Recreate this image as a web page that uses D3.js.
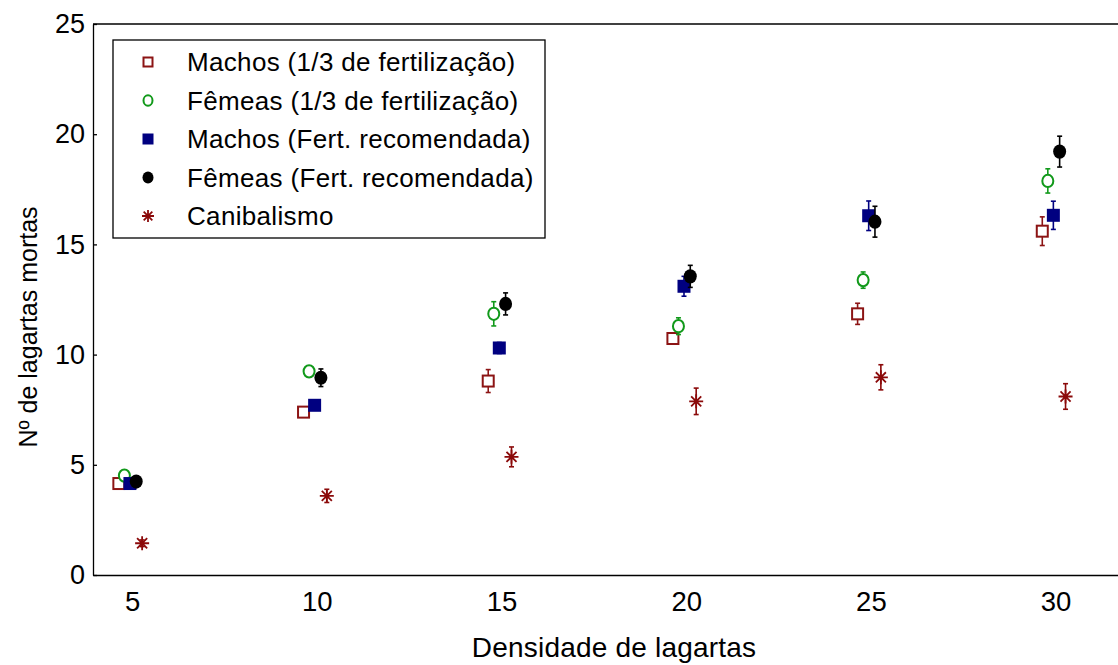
<!DOCTYPE html>
<html><head><meta charset="utf-8">
<script src="https://cdn.jsdelivr.net/npm/d3@7"></script>
<style>
body{margin:0;background:#fff}
svg{display:block}
text{font-family:"Liberation Sans",Arial,Helvetica,sans-serif;fill:#000}
</style>
</head><body>
<svg id="chart" width="1118" height="665"></svg>
<script>
// ---- data ----
const densities = [5, 10, 15, 20, 25, 30];
const xTicks = [5, 10, 15, 20, 25, 30];
const yTicks = [0, 5, 10, 15, 20, 25];

const machos13      = [4.15, 7.39, 8.8, 10.73, 11.85, 15.6];
const machos13Err   = [0.15, 0.2, 0.52, 0.2, 0.48, 0.65];
const femeas13      = [4.51, 9.24, 11.85, 11.29, 13.38, 17.88];
const femeas13Err   = [0.15, 0.2, 0.55, 0.38, 0.37, 0.55];
const machosRec     = [4.15, 7.7, 10.3, 13.1, 16.3, 16.32];
const machosRecErr  = [0.15, 0.2, 0.25, 0.45, 0.67, 0.64];
const femeasRec     = [4.24, 8.95, 12.3, 13.55, 16.03, 19.21];
const femeasRecErr  = [0.15, 0.4, 0.5, 0.5, 0.7, 0.7];
const canibalismo   = [1.44, 3.59, 5.36, 7.88, 8.97, 8.1];
const canibalismoErr= [0.15, 0.3, 0.45, 0.6, 0.57, 0.58];

const seriesNames = [
  "Machos (1/3 de fertilização)",
  "Fêmeas (1/3 de fertilização)",
  "Machos (Fert. recomendada)",
  "Fêmeas (Fert. recomendada)",
  "Canibalismo"
];

const xLabel = "Densidade de lagartas";
const yLabel = "Nº de lagartas mortas";

// ---- styling / config built from data ----
const series = [
  {name: seriesNames[0], vals: machos13,    err: machos13Err,    shape: "square-open", color: "#8c1414", off: -0.30},
  {name: seriesNames[1], vals: femeas13,    err: femeas13Err,    shape: "circle-open", color: "#11991a", off: -0.15},
  {name: seriesNames[2], vals: machosRec,   err: machosRecErr,   shape: "square",      color: "#000080", off: 0.00},
  {name: seriesNames[3], vals: femeasRec,   err: femeasRecErr,   shape: "circle",      color: "#000000", off: 0.17},
  {name: seriesNames[4], vals: canibalismo, err: canibalismoErr, shape: "asterisk",    color: "#8b0a0a", off: 0.33}
];

const svg = d3.select("#chart");
const W = 1118, H = 665;
const x = d3.scaleLinear().domain([4, 31.75]).range([93, 1118]);
const y = d3.scaleLinear().domain([0, 25]).range([575, 24]);

// frame top line
svg.append("line").attr("x1", x.range()[0]).attr("x2", W).attr("y1", y(25)).attr("y2", y(25))
  .attr("stroke", "#000").attr("stroke-width", 1.3);

// y axis
const yAxis = svg.append("g").attr("transform", `translate(${x.range()[0]},0)`)
  .call(d3.axisLeft(y).tickValues(yTicks).tickSizeInner(-4).tickSizeOuter(0).tickPadding(8));
yAxis.selectAll("text").style("font-size", "27px");
yAxis.selectAll("path,line").attr("stroke", "#000").attr("stroke-width", 1.3);

// x axis
const xAxis = svg.append("g").attr("transform", `translate(0,${y(0)})`)
  .call(d3.axisBottom(x).tickValues(xTicks).tickSize(0).tickPadding(16).tickFormat(d3.format("d")));
xAxis.selectAll("text").style("font-size", "27.5px").attr("dx", "0.08em");
xAxis.selectAll("path,line").attr("stroke", "#000").attr("stroke-width", 1.3);

// titles
svg.append("text").attr("x", 614).attr("y", 657).attr("text-anchor", "middle")
  .style("font-size", "28px").style("letter-spacing", "0.2px").text(xLabel);
svg.append("text").attr("transform", "translate(37,327) rotate(-90)").attr("text-anchor", "middle")
  .style("font-size", "25px").text(yLabel);

// marker drawing
function drawMarker(g, shape, color, cx, cy, s) {
  const h = s / 2;
  if (shape === "square-open") {
    g.append("rect").attr("x", cx - h + 1).attr("y", cy - h + 1).attr("width", s - 2).attr("height", s - 2)
      .attr("fill", "#fff").attr("stroke", color).attr("stroke-width", 2);
  } else if (shape === "square") {
    g.append("rect").attr("x", cx - h).attr("y", cy - h).attr("width", s).attr("height", s)
      .attr("fill", color);
  } else if (shape === "circle-open") {
    g.append("ellipse").attr("cx", cx).attr("cy", cy).attr("rx", h - 1).attr("ry", h - 0.3)
      .attr("fill", "#fff").attr("stroke", color).attr("stroke-width", 2);
  } else if (shape === "circle") {
    g.append("ellipse").attr("cx", cx).attr("cy", cy).attr("rx", h).attr("ry", h + 0.6)
      .attr("fill", color);
  } else if (shape === "asterisk") {
    const a = h + 0.5, d = a * 0.72;
    const p = `M${cx},${cy - a}L${cx},${cy + a}M${cx - d},${cy - d}L${cx + d},${cy + d}` +
              `M${cx - d},${cy + d}L${cx + d},${cy - d}M${cx - a},${cy}L${cx + a},${cy}`;
    g.append("path").attr("d", p).attr("stroke", color).attr("stroke-width", 1.8).attr("fill", "none");
  }
}

// data
const plot = svg.append("g");
series.forEach(s => {
  const g = plot.append("g");
  densities.forEach((dn, i) => {
    const cx = x(dn + s.off);
    const v = s.vals[i], e = s.err[i];
    const y1 = y(v + e), y2 = y(v - e);
    g.append("line").attr("x1", cx).attr("x2", cx).attr("y1", y1).attr("y2", y2)
      .attr("stroke", s.color).attr("stroke-width", 1.6);
    [y1, y2].forEach(yy => g.append("line").attr("x1", cx - 2.5).attr("x2", cx + 2.5)
      .attr("y1", yy).attr("y2", yy).attr("stroke", s.color).attr("stroke-width", 1.6));
    drawMarker(g, s.shape, s.color, cx, y(v), 13);
  });
});

// legend
const leg = svg.append("g");
leg.append("rect").attr("x", 113).attr("y", 40).attr("width", 432).attr("height", 198)
  .attr("fill", "#fff").attr("stroke", "#000").attr("stroke-width", 1.3);
const rowY = d3.scalePoint().domain(seriesNames).range([62, 216]);
series.forEach(s => {
  const cy = rowY(s.name);
  drawMarker(leg, s.shape, s.color, 148, cy, 11);
  leg.append("text").attr("x", 187).attr("y", cy + 9).style("font-size", "26px")
    .style("letter-spacing", "0.33px").text(s.name);
});
</script>
</body></html>
